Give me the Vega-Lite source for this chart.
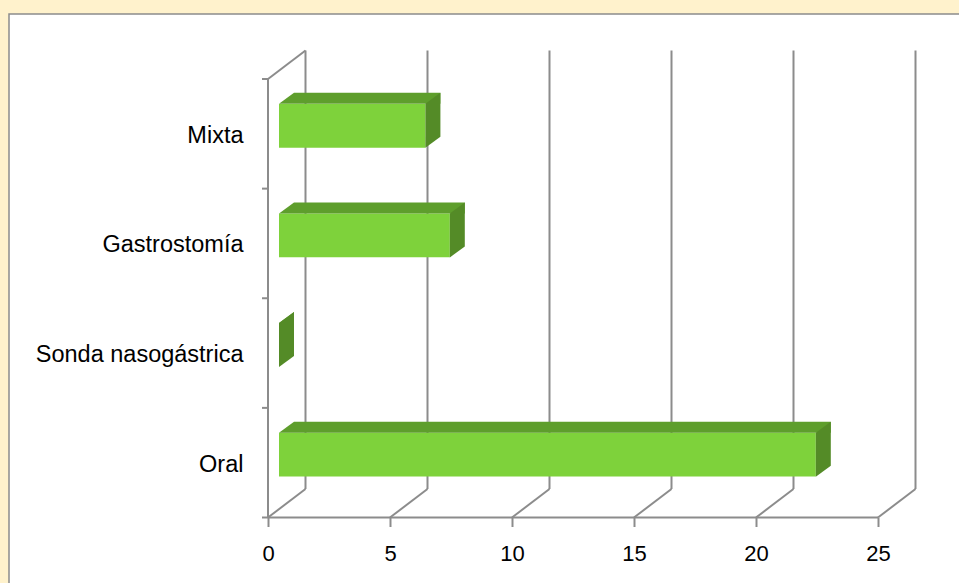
{
  "$schema": "https://vega.github.io/schema/vega-lite/v6.json",
  "width": 952,
  "height": 571,
  "autosize": {"type": "none"},
  "padding": {"left": 9, "top": 14, "right": -2, "bottom": -2},
  "background": "#FFF2CC",
  "view": {"fill": "white", "stroke": "#8C8C8C", "strokeWidth": 1.5},
  "config": {"font": "Liberation Sans"},
  "datasets": {
    "alimentacion": [
      {"via": "Oral", "n": 22},
      {"via": "Sonda nasogástrica", "n": 0},
      {"via": "Gastrostomía", "n": 7},
      {"via": "Mixta", "n": 6}
    ],
    "escala": [{"v": 0}, {"v": 5}, {"v": 10}, {"v": 15}, {"v": 20}, {"v": 25}],
    "niveles": [{"l": 0}, {"l": 1}, {"l": 2}, {"l": 3}, {"l": 4}]
  },
  "resolve": {"scale": {"y": "independent"}},
  "layer": [
    {
      "layer": [
        {
          "data": {"name": "escala"},
          "mark": {"type": "rule", "color": "#8C8C8C", "strokeWidth": 2, "xOffset": 37.5, "x2Offset": 37.5, "yOffset": -28.5, "y2Offset": -28.5},
          "encoding": {
            "x": {"field": "v", "type": "quantitative", "scale": {"domain": [-10.6148, 28.4016], "nice": false, "zero": false}},
            "x2": {"field": "v"},
            "y": {"datum": 0, "type": "quantitative", "scale": {"domain": [0, 4], "range": [503.5, 65], "nice": false}, "axis": null},
            "y2": {"datum": 4}
          }
        },
        {
          "data": {"name": "escala"},
          "mark": {"type": "rule", "color": "#8C8C8C", "strokeWidth": 2, "x2Offset": 37.5, "y2Offset": -28.5},
          "encoding": {
            "x": {"field": "v", "type": "quantitative"},
            "x2": {"field": "v"},
            "y": {"datum": 0, "type": "quantitative", "axis": null},
            "y2": {"datum": 0}
          }
        },
        {
          "data": {"values": [{}]},
          "mark": {"type": "rule", "color": "#8C8C8C", "strokeWidth": 2, "x2Offset": 37.5, "y2Offset": -28.5},
          "encoding": {
            "x": {"datum": 0, "type": "quantitative"},
            "x2": {"datum": 0},
            "y": {"datum": 4, "type": "quantitative", "axis": null},
            "y2": {"datum": 4}
          }
        },
        {
          "data": {"name": "niveles"},
          "mark": {"type": "rule", "color": "#8C8C8C", "strokeWidth": 2, "x2Offset": -6},
          "encoding": {
            "x": {"datum": 0, "type": "quantitative"},
            "x2": {"datum": 0},
            "y": {"field": "l", "type": "quantitative", "axis": null},
            "y2": {"field": "l"}
          }
        },
        {
          "data": {"values": [{}]},
          "mark": {"type": "rule", "color": "#8C8C8C", "strokeWidth": 2},
          "encoding": {
            "x": {"datum": 0, "type": "quantitative"},
            "y": {"datum": 0, "type": "quantitative", "axis": null},
            "y2": {"datum": 4}
          }
        },
        {
          "data": {"values": [{}]},
          "mark": {"type": "rule", "color": "#8C8C8C", "strokeWidth": 2},
          "encoding": {
            "x": {"datum": 0, "type": "quantitative"},
            "x2": {"datum": 25},
            "y": {"datum": 0, "type": "quantitative", "axis": null}
          }
        }
      ]
    },
    {
      "data": {"name": "alimentacion"},
      "encoding": {
        "y": {
          "field": "via",
          "type": "nominal",
          "sort": ["Mixta", "Gastrostomía", "Sonda nasogástrica", "Oral"],
          "scale": {"range": [65, 503.5], "paddingInner": 0.6, "paddingOuter": 0.3},
          "axis": {
            "title": null,
            "domain": false,
            "ticks": false,
            "labelFont": "Liberation Sans",
            "labelFontSize": 23.5,
            "labelColor": "#000000",
            "labelPadding": 25,
            "labelLimit": 400,
            "labelOffset": 2,
            "offset": -259
          }
        }
      },
      "layer": [
        {
          "mark": {"type": "bar", "color": "#7ED23B", "xOffset": 11, "x2Offset": 11, "yOffset": -8, "y2Offset": -8},
          "encoding": {
            "x": {
              "field": "n",
              "type": "quantitative",
              "axis": {
                "title": null,
                "values": [0, 5, 10, 15, 20, 25],
                "domain": false,
                "grid": false,
                "tickSize": 9,
                "tickColor": "#8C8C8C",
                "tickWidth": 2,
                "labelFont": "Liberation Sans",
                "labelFontSize": 22,
                "labelColor": "#000000",
                "labelPadding": 17,
                "offset": -67.5
              }
            },
            "x2": {"datum": 0}
          }
        },
        {
          "mark": {"type": "bar", "color": "#5E9E2C", "height": 11, "xOffset": 26, "x2Offset": 26, "yOffset": -35.5},
          "encoding": {
            "x": {"field": "n", "type": "quantitative"},
            "x2": {"datum": 0}
          }
        },
        {
          "mark": {"type": "point", "shape": "M0,-22L15,-33L15,-22Z", "size": 4, "filled": true, "opacity": 1, "strokeWidth": 0, "color": "#5E9E2C", "xOffset": 11, "yOffset": -8},
          "encoding": {
            "x": {"datum": 0, "type": "quantitative"}
          }
        },
        {
          "mark": {"type": "point", "shape": "M0,-22L15,-33L15,11L0,22Z", "size": 4, "filled": true, "opacity": 1, "strokeWidth": 0, "color": "#548B27", "xOffset": 11, "yOffset": -8},
          "encoding": {
            "x": {"field": "n", "type": "quantitative"}
          }
        }
      ]
    }
  ]
}
